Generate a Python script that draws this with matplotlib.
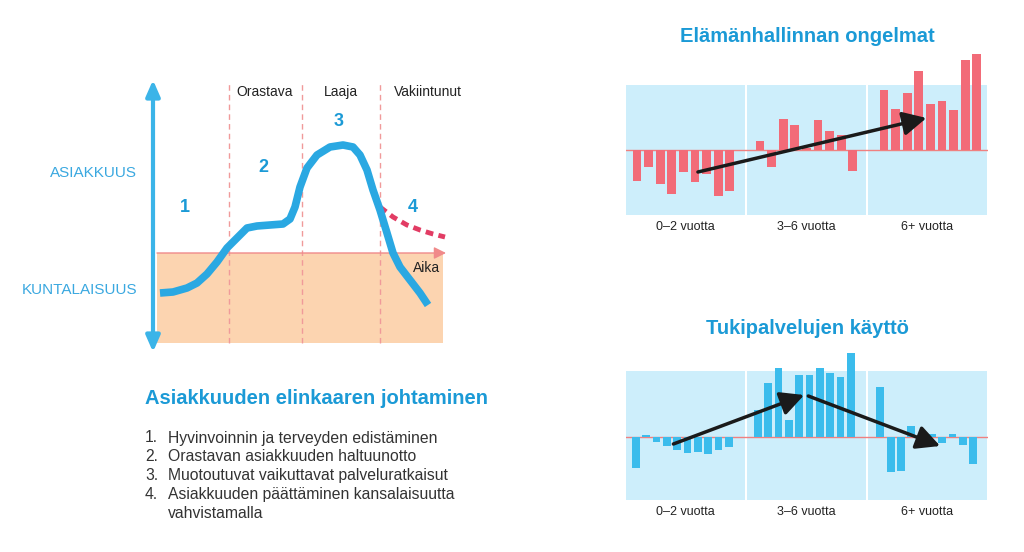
#!/usr/bin/python3

import numpy as np
import matplotlib
matplotlib.use('Agg')
import matplotlib.pyplot as plt

plt.rcParams['font.family'] = ['Liberation Sans', 'DejaVu Sans']

# life-cycle curve (time, level)
curve_t = [2.0, 3.3, 4.7, 5.7, 6.7, 7.7, 8.7, 9.7, 10.7, 11.7, 13.0, 14.3, 15.0, 15.5, 16.0, 16.7,
	17.7, 19.0, 20.3, 21.3, 22.0, 22.7, 23.3, 24.0, 24.7, 25.3, 26.0, 27.0, 28.0, 28.8]
curve_y = [6.7, 6.8, 7.2, 7.7, 8.6, 9.8, 11.2, 12.2, 13.2, 13.4, 13.5, 13.6, 14.1, 15.3, 17.3, 19.2,
	20.5, 21.3, 21.5, 21.3, 20.5, 19.0, 17.0, 15.0, 12.7, 10.7, 9.3, 8.0, 6.7, 5.5]
alt_t = [24.0, 25.3, 26.7, 28.0, 29.3, 30.5]
alt_y = [15.3, 14.3, 13.5, 13.0, 12.6, 12.3]
citizen_level = 10.7
phase_bounds = [8.9, 16.2, 24.0]
phase_names = ["Orastava", "Laaja", "Vakiintunut"]
phase_x = [12.5, 20.1, 28.8]
stage_nums = ["1", "2", "3", "4"]
stage_pos = [(4.5, 15.3), (12.3, 19.2), (19.9, 23.8), (27.3, 15.3)]

list_title = "Asiakkuuden elinkaaren johtaminen"
list_items = ["Hyvinvoinnin ja terveyden edistäminen",
	"Orastavan asiakkuuden haltuunotto",
	"Muotoutuvat vaikuttavat palveluratkaisut",
	"Asiakkuuden päättäminen kansalaisuutta\nvahvistamalla"]

groups = ["0–2 vuotta", "3–6 vuotta", "6+ vuotta"]
problems = [
	[-31, -17, -34, -44, -22, -32, -24, -46, -41],
	[9, -17, 31, 25, 2, 30, 19, 15, -21],
	[60, 41, 57, 79, 46, 49, 40, 90, 96]]
services = [
	[-31, 2, -5, -9, -13, -16, -15, -17, -13, -10],
	[27, 54, 69, 17, 62, 62, 69, 64, 60, 84],
	[50, -35, -34, 11, -6, 3, -6, 3, -8, -27]]

BLUE = "#2aa8e2"
TITLE = "#1b9ad6"
PANEL = "#cdeefb"
PINK = "#f08080"

fig = plt.figure(figsize=(10.24, 5.52), dpi=100)

def px_axes(x0, y0, x1, y1):
	return fig.add_axes([x0 / 1024, 1 - y1 / 552, (x1 - x0) / 1024, (y1 - y0) / 552])

# ---- life-cycle diagram
ax = px_axes(140, 70, 460, 360)
ax.set_xlim(0, 32)
ax.set_ylim(0, 29)
ax.axis("off")
ax.fill_between([1.7, 30.3], 1.7, citizen_level, color="#fcd4b0", lw=0, zorder=0)
ax.vlines(phase_bounds, 1.7, 27.7, colors="#f09a9a", lw=1, linestyles=(0, (4, 3)), zorder=1)
ax.annotate("", xy=(30.6, citizen_level), xytext=(1.7, citizen_level),
	arrowprops=dict(arrowstyle="-|>,head_length=0.6,head_width=0.3", color="#f08a8a", lw=1,
	mutation_scale=12, shrinkA=0, shrinkB=0), zorder=2)
ax.annotate("", xy=(1.3, 28.0), xytext=(1.3, 0.8),
	arrowprops=dict(arrowstyle="<|-|>,head_length=0.8,head_width=0.35", color="#3bb4e8", lw=3,
	mutation_scale=12, shrinkA=0, shrinkB=0), zorder=3)
ax.plot(alt_t, alt_y, color="#e23c64", lw=3.5, dashes=(1.6, 1.1), zorder=3)
ax.plot(curve_t, curve_y, color=BLUE, lw=5.5, solid_capstyle="butt", solid_joinstyle="round", zorder=4)
for name, x in zip(phase_names, phase_x):
	ax.text(x, 26.8, name, ha="center", va="center", fontsize=10, color="#222222")
for s, (x, y) in zip(stage_nums, stage_pos):
	ax.text(x, y, s, ha="center", va="center", fontsize=13, fontweight="bold", color=TITLE)
ax.text(28.7, 9.2, "Aika", ha="center", va="center", fontsize=10, color="#222222")
ax.text(-0.3, 18.7, "ASIAKKUUS", ha="right", va="center", fontsize=11, color="#3aa8e0")
ax.text(-0.3, 7.0, "KUNTALAISUUS", ha="right", va="center", fontsize=11, color="#3aa8e0")

# ---- list
fig.text(145 / 1024, 1 - 398 / 552, list_title, ha="left", va="center", fontsize=14.5,
	fontweight="bold", color=TITLE)
yy = 438
for i, item in enumerate(list_items):
	fig.text(145 / 1024, 1 - yy / 552, "%d." % (i + 1), ha="left", va="center", fontsize=11.3, color="#333333")
	for line in item.split("\n"):
		fig.text(168 / 1024, 1 - yy / 552, line, ha="left", va="center", fontsize=11.3, color="#333333")
		yy += 18.8

# ---- bar charts
def bar_chart(y0, y1, base, values, step, pads, color, title, title_y, arrows):
	ax = px_axes(626, y0, 988, y1)
	width_u = 362 / step
	pw = 119 / step
	stride = 121 / step
	ax.set_xlim(0, width_u)
	ax.set_ylim(-(y1 - base), base - y0)
	ax.axis("off")
	for g, vals in enumerate(values):
		ax.axvspan(g * stride, g * stride + pw, color=PANEL, lw=0, zorder=0)
		xs = g * stride + pads[g] + np.arange(len(vals))
		ax.bar(xs, vals, width=0.75, color=color, zorder=2, clip_on=False)
		ax.text(g * stride + pw / 2, -(y1 - base) - 12, groups[g], ha="center", va="center",
			fontsize=9, color="#222222")
	ax.axhline(0, color=PINK, lw=1, zorder=1)
	for (xa, ya), (xb, yb) in arrows:
		ax.annotate("", xy=(xb, yb), xytext=(xa, ya),
			arrowprops=dict(arrowstyle="-|>,head_length=0.75,head_width=0.38", color="#1a1a1a", lw=2.5,
			mutation_scale=19, shrinkA=0, shrinkB=0), zorder=5, annotation_clip=False)
	fig.text(807 / 1024, 1 - title_y / 552, title, ha="center", va="center", fontsize=14.5,
		fontweight="bold", color=TITLE)

bar_chart(85, 215, 150, problems, 11.6, [0.95, 1.12, 1.38], "#f26b78",
	"Elämänhallinnan ongelmat", 37, [((6.2, -22), (25.9, 32))])
bar_chart(371, 500, 437, services, 10.3, [0.97, 1.07, 1.2], "#3bbcec",
	"Tukipalvelujen käyttö", 328, [((4.6, -7), (17.3, 42)), ((17.7, 41), (30.5, -9))])

fig.savefig("out.png", dpi=100)
